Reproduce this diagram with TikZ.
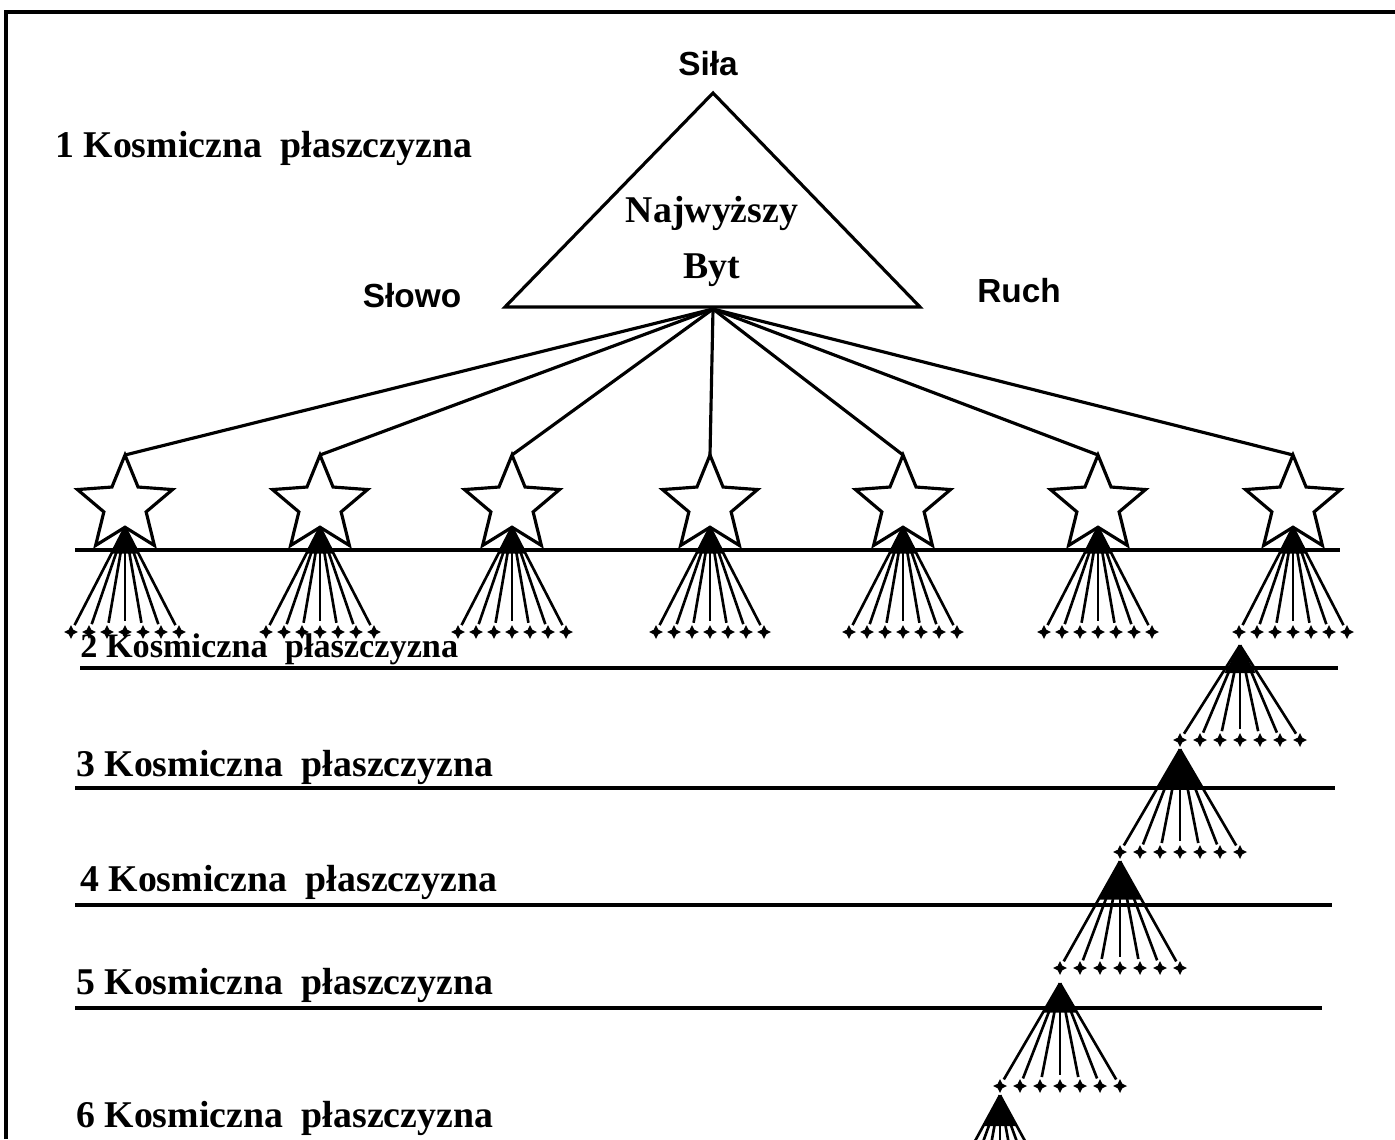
\documentclass[tikz,border=0pt]{standalone}
\usepackage{fontspec}
\setmainfont{Liberation Serif}
\setsansfont{Liberation Sans}
\usetikzlibrary{shapes.geometric}

\begin{document}
\begin{tikzpicture}[
  x=0.02cm, y=-0.02cm,
  every node/.style={font=\bfseries\fontsize{21.5}{24}\selectfont},
  frame/.style={line width=1.9pt},
  plane/.style={line width=1.8pt},
  link/.style={line width=1.8pt},
  ray/.style={line width=1.5pt, shorten >=2pt},
  starbox/.style={star, star points=5, star point ratio=2.25, draw, line width=1.8pt,
                  fill=white, minimum size=2cm, inner sep=0pt},
  knot/.style={regular polygon, regular polygon sides=3, fill=black, inner sep=0pt,
               minimum size=#1},
  knot/.default=0.68cm,
  seed/.style={star, star points=4, star point ratio=2.2, fill=black, inner sep=0pt,
               minimum size=0.28cm},
  level/.style={anchor=base west, inner sep=0pt},
  corner/.style={anchor=base, font=\sffamily\bfseries\fontsize{19}{22}\selectfont},
]
\useasboundingbox (0,0) rectangle (1395,1139);
\clip (0,0) rectangle (1395,1139);

% Frame
\draw[frame] (6,1139) -- (6,12) -- (1395,12);

% Highest being
\coordinate (apex) at (713,93);
\coordinate (left) at (505,307);
\coordinate (right) at (920,307);
\coordinate (hub) at (713,309);
\draw[link] (apex) -- (left) -- (right) -- cycle;
\node[corner] (sila) at (708,75) {Siła};
\node[corner] (slowo) at (412,307) {Słowo};
\node[corner] (ruch) at (1019,302) {Ruch};
\node[anchor=base] (naj) at (712,222) {Najwyższy};
\node[anchor=base] (byt) at (712,278) {Byt};

% Levels
\node[level] (lv1) at (55,157) {1 Kosmiczna \ płaszczyzna};
\node[level, font=\bfseries\fontsize{19.5}{22}\selectfont] (lv2) at (80,657) {2 Kosmiczna \ płaszczyzna};
\node[level] (lv3) at (76,776) {3 Kosmiczna \ płaszczyzna};
\node[level] (lv4) at (80,891) {4 Kosmiczna \ płaszczyzna};
\node[level] (lv5) at (76,994) {5 Kosmiczna \ płaszczyzna};
\node[level] (lv6) at (76,1127) {6 Kosmiczna \ płaszczyzna};

% Stars of the first plane
\foreach \i/\x in {1/125, 2/320, 3/512, 4/710, 5/903, 6/1098, 7/1293} {
  \draw[link] (hub) -- (\x,455);
  \node[starbox] (s\i) at (\x,505) {};
  \node[knot] (k\i) at (\x,545) {};
  \foreach \j in {1,...,7} {
    \node[seed] (d\i-\j) at ({\x+18*(\j-4)},632) {};
    \draw[ray] (k\i.corner 1) -- (d\i-\j);
  }
}
\draw[plane] (75,550) -- (1340,550);

% Descent through the lower planes
\foreach \lv/\ax/\ay/\sz/\dy in {2/1240/646/36/740, 3/1180/750/52/852,
                                 4/1120/862/50/968, 5/1060/984/38/1086} {
  \node[knot={\sz*0.02cm}] (c\lv) at (\ax,{\ay+\sz/2}) {};
  \foreach \j in {1,...,7} {
    \node[seed] (e\lv-\j) at ({\ax+20*(\j-4)},\dy) {};
    \draw[ray] (c\lv.corner 1) -- (e\lv-\j);
  }
}
\node[knot={40*0.02cm}] (c6) at (1000,1116) {};
\foreach \j in {1,...,7} {
  \coordinate (f6-\j) at ({1000+20*(\j-4)},1205);
  \draw[ray] (c6.corner 1) -- (f6-\j);
}

\draw[plane] (80,668) -- (1338,668);
\draw[plane] (75,788) -- (1335,788);
\draw[plane] (75,905) -- (1332,905);
\draw[plane] (75,1008) -- (1322,1008);

\end{tikzpicture}
\end{document}
